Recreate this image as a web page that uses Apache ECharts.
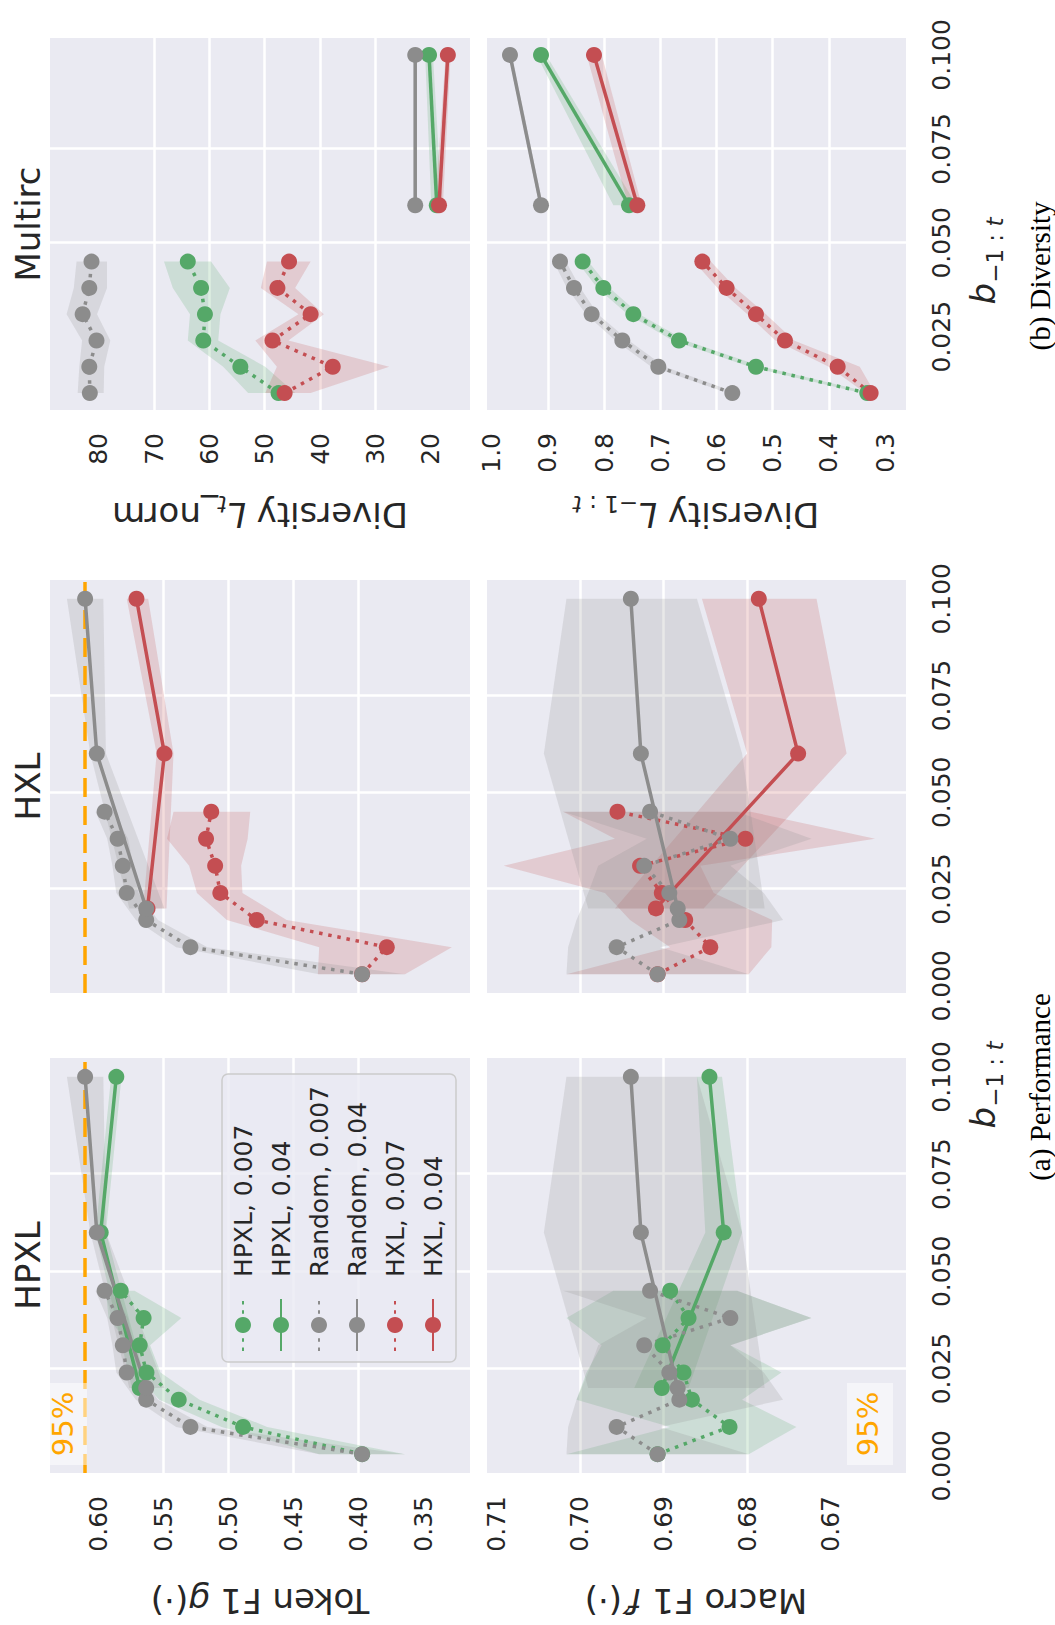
<!DOCTYPE html>
<html><head><meta charset="utf-8">
<script src="https://cdn.jsdelivr.net/npm/echarts@6/dist/echarts.min.js"></script>
<style>
html,body{margin:0;padding:0;background:#fff;overflow:hidden;width:1055px;height:1625px;}
#chart{position:absolute;left:0;top:0;width:1625px;height:1055px;transform-origin:0 0;transform:translate(0,1625px) rotate(-90deg);}
</style></head><body><div id="chart"></div>
<script>
// ---------- x positions (b_{-1:t}) ----------
const bDotted = [0.003, 0.010, 0.017, 0.024, 0.031, 0.038, 0.045];
const bSolid = [0.02, 0.06, 0.10];
const bDottedMultirc = [0.010, 0.017, 0.024, 0.031, 0.038, 0.045];
const bSolidMultirc = [0.06, 0.10];

// ---------- tick values ----------
const xTicksPerf = [0, 0.025, 0.05, 0.075, 0.1];
const xTicksMultirc = [0.025, 0.05, 0.075, 0.1];
const tokenTicks = [0.35, 0.40, 0.45, 0.50, 0.55, 0.60];
const macroTicks = [0.67, 0.68, 0.69, 0.70, 0.71];
const normTicks = [20, 30, 40, 50, 60, 70, 80];
const divTicks = [0.3, 0.4, 0.5, 0.6, 0.7, 0.8, 0.9, 1.0];

// ---------- 95% reference values ----------
const token95 = 0.612;
const macro95 = 0.6631;

// ---------- Token F1 g(.) ----------
const tokenRandomDot   = [0.397, 0.529, 0.563, 0.578, 0.581, 0.585, 0.595];
const tokenRandomDotHi = [0.430, 0.540, 0.571, 0.586, 0.589, 0.593, 0.602];
const tokenRandomDotLo = [0.364, 0.516, 0.554, 0.569, 0.573, 0.577, 0.588];
const tokenRandomSol   = [0.563, 0.601, 0.610];
const tokenRandomSolHi = [0.576, 0.606, 0.624];
const tokenRandomSolLo = [0.549, 0.594, 0.596];
const tokenHpxlDot     = [0.397, 0.4885, 0.538, 0.5628, 0.568, 0.565, 0.5826];
const tokenHpxlDotHi   = [0.430, 0.505, 0.553, 0.572, 0.576, 0.592, 0.594];
const tokenHpxlDotLo   = [0.364, 0.470, 0.522, 0.552, 0.560, 0.536, 0.572];
const tokenHpxlSol     = [0.568, 0.598, 0.586];
const tokenHpxlSolHi   = [0.574, 0.602, 0.590];
const tokenHpxlSolLo   = [0.562, 0.594, 0.582];
const tokenHxlDot      = [0.397, 0.378, 0.478, 0.506, 0.510, 0.517, 0.513];
const tokenHxlDotHi    = [0.431, 0.430, 0.501, 0.524, 0.530, 0.547, 0.542];
const tokenHxlDotLo    = [0.364, 0.328, 0.455, 0.489, 0.490, 0.485, 0.483];
const tokenHxlSol      = [0.562, 0.549, 0.5705];
const tokenHxlSolHi    = [0.5654, 0.555, 0.578];
const tokenHxlSolLo    = [0.5474, 0.542, 0.5615];

// ---------- Macro F1 f'(.) ----------
const macroRandomDot   = [0.6907, 0.6956, 0.6881, 0.6893, 0.6923, 0.6820, 0.6916];
const macroRandomDotHi = [0.7016, 0.7014, 0.7004, 0.6990, 0.6978, 0.6920, 0.7020];
const macroRandomDotLo = [0.6798, 0.6904, 0.6757, 0.6780, 0.6820, 0.6723, 0.6812];
const macroRandomSol   = [0.6883, 0.6927, 0.6939];
const macroRandomSolHi = [0.6990, 0.7043, 0.7016];
const macroRandomSolLo = [0.6779, 0.6806, 0.6860];
const macroHpxlDot     = [0.6907, 0.6821, 0.6866, 0.6876, 0.6901, 0.6870, 0.6892];
const macroHpxlDotHi   = [0.7016, 0.6892, 0.7004, 0.6992, 0.6974, 0.7016, 0.6960];
const macroHpxlDotLo   = [0.6798, 0.6741, 0.6806, 0.6759, 0.6820, 0.6723, 0.6812];
const macroHpxlSol     = [0.6902, 0.6828, 0.6845];
const macroHpxlSolHi   = [0.6935, 0.6850, 0.6860];
const macroHpxlSolLo   = [0.6870, 0.6806, 0.6830];
const macroHxlDot      = [0.6907, 0.6844, 0.6874, 0.6902, 0.6928, 0.6802, 0.6955];
const macroHxlDotHi    = [0.7016, 0.6892, 0.6940, 0.6970, 0.7091, 0.6958, 0.7020];
const macroHxlDotLo    = [0.6798, 0.6771, 0.6770, 0.6840, 0.6856, 0.6647, 0.6796];
const macroHxlSol      = [0.6909, 0.6739, 0.6786];
const macroHxlSolHi    = [0.6958, 0.6800, 0.6854];
const macroHxlSolLo    = [0.6852, 0.6681, 0.6717];

// ---------- Multirc: Diversity L_t_norm ----------
const normRandomDot   = [81.6, 81.7, 80.4, 82.9, 81.7, 81.3];
const normRandomDotHi = [83.8, 83.5, 83.0, 85.8, 84.5, 84.0];
const normRandomDotLo = [79.1, 79.0, 77.9, 80.3, 78.5, 78.5];
const normRandomSol   = [22.8, 22.8];
const normRandomSolHi = [23.1, 23.1];
const normRandomSolLo = [22.5, 22.5];
const normHpxlDot     = [47.5, 54.4, 61.1, 60.8, 61.5, 63.9];
const normHpxlDotHi   = [53.0, 57.5, 63.9, 63.5, 66.6, 68.2];
const normHpxlDotLo   = [44.5, 49.9, 58.4, 58.0, 56.3, 59.7];
const normHpxlSol     = [18.9, 20.3];
const normHpxlSolHi   = [19.9, 21.0];
const normHpxlSolLo   = [18.0, 19.6];
const normHxlDot      = [46.4, 37.7, 48.6, 41.7, 47.7, 45.6];
const normHxlDotHi    = [49.9, 47.8, 51.7, 43.9, 50.7, 49.6];
const normHxlDotLo    = [41.7, 27.5, 45.7, 39.3, 44.5, 41.7];
const normHxlSol      = [18.5, 16.9];
const normHxlSolHi    = [19.2, 17.3];
const normHxlSolLo    = [17.8, 16.4];

// ---------- Multirc: Diversity L_{-1:t} ----------
const divRandomDot   = [0.5718, 0.7034, 0.7675, 0.8221, 0.8535, 0.8784];
const divRandomDotHi = [0.580, 0.716, 0.780, 0.832, 0.866, 0.890];
const divRandomDotLo = [0.563, 0.692, 0.756, 0.811, 0.842, 0.868];
const divRandomSol   = [0.9122, 0.9674];
const divRandomSolHi = [0.915, 0.970];
const divRandomSolLo = [0.909, 0.964];
const divHpxlDot     = [0.3316, 0.5297, 0.6667, 0.7479, 0.8013, 0.8381];
const divHpxlDotHi   = [0.342, 0.541, 0.678, 0.758, 0.812, 0.848];
const divHpxlDotLo   = [0.322, 0.518, 0.655, 0.737, 0.790, 0.828];
const divHpxlSol     = [0.7556, 0.9122];
const divHpxlSolHi   = [0.7835, 0.920];
const divHpxlSolLo   = [0.742, 0.903];
const divHxlDot      = [0.3256, 0.3843, 0.4781, 0.5297, 0.5819, 0.6251];
const divHxlDotHi    = [0.335, 0.400, 0.495, 0.545, 0.598, 0.640];
const divHxlDotLo    = [0.318, 0.345, 0.462, 0.512, 0.566, 0.610];
const divHxlSol      = [0.7408, 0.8179];
const divHxlSolHi    = [0.757, 0.831];
const divHxlSolLo    = [0.733, 0.804];

// ---------- styling ----------
const T = '#262626';
const GREEN = '#55A868', RED = '#C44E52', GRAY = '#8C8C8C';
const BAND = {};
BAND[GREEN] = 'rgba(85,168,104,0.2)';
BAND[RED] = 'rgba(196,78,82,0.2)';
BAND[GRAY] = 'rgba(140,140,140,0.2)';
const FONT = 'DejaVu Sans';
const TICK = 25;

const grids = [
  {left:152, top:50, width:415, height:420},
  {left:152, top:487, width:415, height:419},
  {left:632, top:50, width:413, height:420},
  {left:632, top:487, width:413, height:419},
  {left:1215, top:50, width:372, height:420},
  {left:1215, top:487, width:372, height:419}
].map(g => Object.assign({show:true, backgroundColor:'#EAEAF2', borderWidth:0}, g));

const splitLine = {show:true, lineStyle:{color:'#ffffff', width:2.5}, showMinLine:false, showMaxLine:false};

function mkX(grid, min, max, ticks, show) {
  return {type:'value', gridIndex:grid, min:min, max:max,
    axisLine:{show:false}, axisTick:{show:false, customValues:ticks},
    axisLabel:{show:show, customValues:ticks, formatter:v => v.toFixed(3),
      fontSize:TICK, fontFamily:FONT, color:T, margin:23, lineHeight:25},
    splitLine:splitLine};
}
function mkY(grid, min, max, ticks, show, dec) {
  return {type:'value', gridIndex:grid, min:min, max:max,
    axisLine:{show:false}, axisTick:{show:false, customValues:ticks},
    axisLabel:{show:show, customValues:ticks, formatter:v => v.toFixed(dec),
      fontSize:TICK, fontFamily:FONT, color:T, margin:23},
    splitLine:splitLine};
}

const xAxis = [
  mkX(0, -0.00185, 0.10485, xTicksPerf, false),
  mkX(1, -0.00185, 0.10485, xTicksPerf, true),
  mkX(2, -0.00185, 0.10485, xTicksPerf, false),
  mkX(3, -0.00185, 0.10485, xTicksPerf, true),
  mkX(4, 0.0055, 0.1045, xTicksMultirc, false),
  mkX(5, 0.0055, 0.1045, xTicksMultirc, true)
];
const yAxis = [
  mkY(0, 0.314, 0.637, tokenTicks, true, 2),
  mkY(1, 0.661, 0.7111, macroTicks, true, 2),
  mkY(2, 0.314, 0.637, tokenTicks, false, 2),
  mkY(3, 0.661, 0.7111, macroTicks, false, 2),
  mkY(4, 12.9, 88.8, normTicks, true, 0),
  mkY(5, 0.2627, 1.0083, divTicks, true, 1)
];

function band(grid, xs, lo, hi, color) {
  return {type:'custom', xAxisIndex:grid, yAxisIndex:grid, z:1, silent:true, clip:true,
    data:[[xs[0], lo[0]]],
    renderItem: function (params, api) {
      const pts = [];
      for (let i = 0; i < xs.length; i++) pts.push(api.coord([xs[i], hi[i]]));
      for (let i = xs.length - 1; i >= 0; i--) pts.push(api.coord([xs[i], lo[i]]));
      return {type:'polygon', shape:{points:pts}, style:{fill:BAND[color], stroke:null}};
    }};
}
function line(name, grid, xs, ys, color, dotted, ref) {
  const s = {type:'line', name:name, xAxisIndex:grid, yAxisIndex:grid, z:3, silent:true,
    data: xs.map((x, i) => [x, ys[i]]),
    symbol:'circle', symbolSize:16, showSymbol:true,
    lineStyle:{color:color, width:3.5, type: dotted ? [3.5, 5.8] : 'solid', cap:'butt'},
    itemStyle:{color:color}, emphasis:{disabled:true}};
  if (ref !== undefined) {
    s.markLine = {silent:true, symbol:['none','none'], z:2, label:{show:false},
      lineStyle:{color:'#FFA500', width:3.5, type:[19, 9]},
      data:[{yAxis:ref}]};
  }
  return s;
}

const series = [];
function group(grid, xsD, xsS, sets, ref) {
  sets.forEach(st => {
    series.push(band(grid, xsD, st.dLo, st.dHi, st.color));
    series.push(band(grid, xsS, st.sLo, st.sHi, st.color));
  });
  sets.forEach((st, k) => {
    series.push(line(st.label + ', 0.007', grid, xsD, st.d, st.color, true));
    series.push(line(st.label + ', 0.04', grid, xsS, st.s, st.color, false, k === 0 ? ref : undefined));
  });
}
const RT = {label:'Random', color:GRAY, d:tokenRandomDot, dLo:tokenRandomDotLo, dHi:tokenRandomDotHi, s:tokenRandomSol, sLo:tokenRandomSolLo, sHi:tokenRandomSolHi};
const RM = {label:'Random', color:GRAY, d:macroRandomDot, dLo:macroRandomDotLo, dHi:macroRandomDotHi, s:macroRandomSol, sLo:macroRandomSolLo, sHi:macroRandomSolHi};
group(0, bDotted, bSolid, [
  {label:'HPXL', color:GREEN, d:tokenHpxlDot, dLo:tokenHpxlDotLo, dHi:tokenHpxlDotHi, s:tokenHpxlSol, sLo:tokenHpxlSolLo, sHi:tokenHpxlSolHi}, RT], token95);
group(1, bDotted, bSolid, [
  {label:'HPXL', color:GREEN, d:macroHpxlDot, dLo:macroHpxlDotLo, dHi:macroHpxlDotHi, s:macroHpxlSol, sLo:macroHpxlSolLo, sHi:macroHpxlSolHi}, RM], macro95);
group(2, bDotted, bSolid, [
  {label:'HXL', color:RED, d:tokenHxlDot, dLo:tokenHxlDotLo, dHi:tokenHxlDotHi, s:tokenHxlSol, sLo:tokenHxlSolLo, sHi:tokenHxlSolHi}, RT], token95);
group(3, bDotted, bSolid, [
  {label:'HXL', color:RED, d:macroHxlDot, dLo:macroHxlDotLo, dHi:macroHxlDotHi, s:macroHxlSol, sLo:macroHxlSolLo, sHi:macroHxlSolHi}, RM], macro95);
group(4, bDottedMultirc, bSolidMultirc, [
  {label:'HPXL', color:GREEN, d:normHpxlDot, dLo:normHpxlDotLo, dHi:normHpxlDotHi, s:normHpxlSol, sLo:normHpxlSolLo, sHi:normHpxlSolHi},
  {label:'HXL', color:RED, d:normHxlDot, dLo:normHxlDotLo, dHi:normHxlDotHi, s:normHxlSol, sLo:normHxlSolLo, sHi:normHxlSolHi},
  {label:'Random', color:GRAY, d:normRandomDot, dLo:normRandomDotLo, dHi:normRandomDotHi, s:normRandomSol, sLo:normRandomSolLo, sHi:normRandomSolHi}]);
group(5, bDottedMultirc, bSolidMultirc, [
  {label:'HPXL', color:GREEN, d:divHpxlDot, dLo:divHpxlDotLo, dHi:divHpxlDotHi, s:divHpxlSol, sLo:divHpxlSolLo, sHi:divHpxlSolHi},
  {label:'HXL', color:RED, d:divHxlDot, dLo:divHxlDotLo, dHi:divHxlDotHi, s:divHxlSol, sLo:divHxlSolLo, sHi:divHxlSolHi},
  {label:'Random', color:GRAY, d:divRandomDot, dLo:divRandomDotLo, dHi:divRandomDotHi, s:divRandomSol, sLo:divRandomSolLo, sHi:divRandomSolHi}]);

// ---------- texts ----------
function mkRich(big, small) {
  return {
    n:{fontSize:big, fontFamily:FONT, fill:T, lineHeight:big + 12, verticalAlign:'middle'},
    i:{fontSize:big, fontFamily:FONT, fontStyle:'italic', fill:T, lineHeight:big + 12, verticalAlign:'middle'},
    s:{fontSize:small, fontFamily:FONT, fill:T, lineHeight:small + 2, verticalAlign:'bottom'},
    si:{fontSize:small, fontFamily:FONT, fontStyle:'italic', fill:T, lineHeight:small + 2, verticalAlign:'bottom'}
  };
}
const richLabel = mkRich(34, 23);
const richX = mkRich(34, 23);
function rtext(x, y, text, rich, rot) {
  return {type:'text', x:x, y:y, rotation:rot || 0, z:20,
    style:{text:text, rich:rich, fill:T, align:'center', verticalAlign:'middle'}};
}
function ptext(x, y, text, size, family, color) {
  return {type:'text', x:x, y:y, z:20,
    style:{text:text, fontSize:size, fontFamily:family, fill:color, align:'center', verticalAlign:'middle'}};
}
const graphic = [
  ptext(359.5, 28, 'HPXL', 34, FONT, T),
  ptext(838.5, 28, 'HXL', 34, FONT, T),
  ptext(1401, 28, 'Multirc', 34, FONT, T),
  rtext(24, 260, '{n|Token F1 }{i|g}{n|(·)}', richLabel, Math.PI / 2),
  rtext(24, 696, '{n|Macro F1 }{i|f′}{n|(·)}', richLabel, Math.PI / 2),
  rtext(1110, 260, '{n|Diversity }{i|L}{si|t}{n|_norm}', richLabel, Math.PI / 2),
  rtext(1110, 696, '{n|Diversity }{i|L}{s|−1 : }{si|t}', richLabel, Math.PI / 2),
  rtext(540, 983, '{i|b}{s|−1 : }{si|t}', richX),
  rtext(1364, 983, '{i|b}{s|−1 : }{si|t}', richX),
  ptext(538, 1040, '(a) Performance', 29, 'Liberation Serif', '#000'),
  ptext(1349, 1040, '(b) Diversity', 29, 'Liberation Serif', '#000'),
  {type:'rect', z:15, shape:{x:160, y:50, width:82, height:37}, style:{fill:'rgba(255,255,255,0.5)'}},
  ptext(201, 63, '95%', 29, FONT, '#FFA500'),
  {type:'rect', z:15, shape:{x:160, y:847, width:82, height:46}, style:{fill:'rgba(255,255,255,0.5)'}},
  ptext(201, 868, '95%', 29, FONT, '#FFA500')
];

const chart = echarts.init(document.getElementById('chart'), null, {renderer:'svg', width:1625, height:1055});
chart.setOption({
  animation:false,
  backgroundColor:'#ffffff',
  textStyle:{fontFamily:FONT},
  grid:grids, xAxis:xAxis, yAxis:yAxis, series:series, graphic:graphic,
  legend:{
    orient:'vertical', left:263, top:222, padding:[7, 12, 9, 10],
    itemWidth:52, itemHeight:20, itemGap:10, selectedMode:false, z:12,
    data:['HPXL, 0.007', 'HPXL, 0.04', 'Random, 0.007', 'Random, 0.04', 'HXL, 0.007', 'HXL, 0.04'],
    textStyle:{fontSize:25, fontFamily:FONT, color:T, lineHeight:28, padding:[0, 0, 0, 17]},
    backgroundColor:'rgba(234,234,242,0.8)', borderColor:'#cccccc', borderWidth:1.5, borderRadius:6
  }
});
</script>
</body></html>
